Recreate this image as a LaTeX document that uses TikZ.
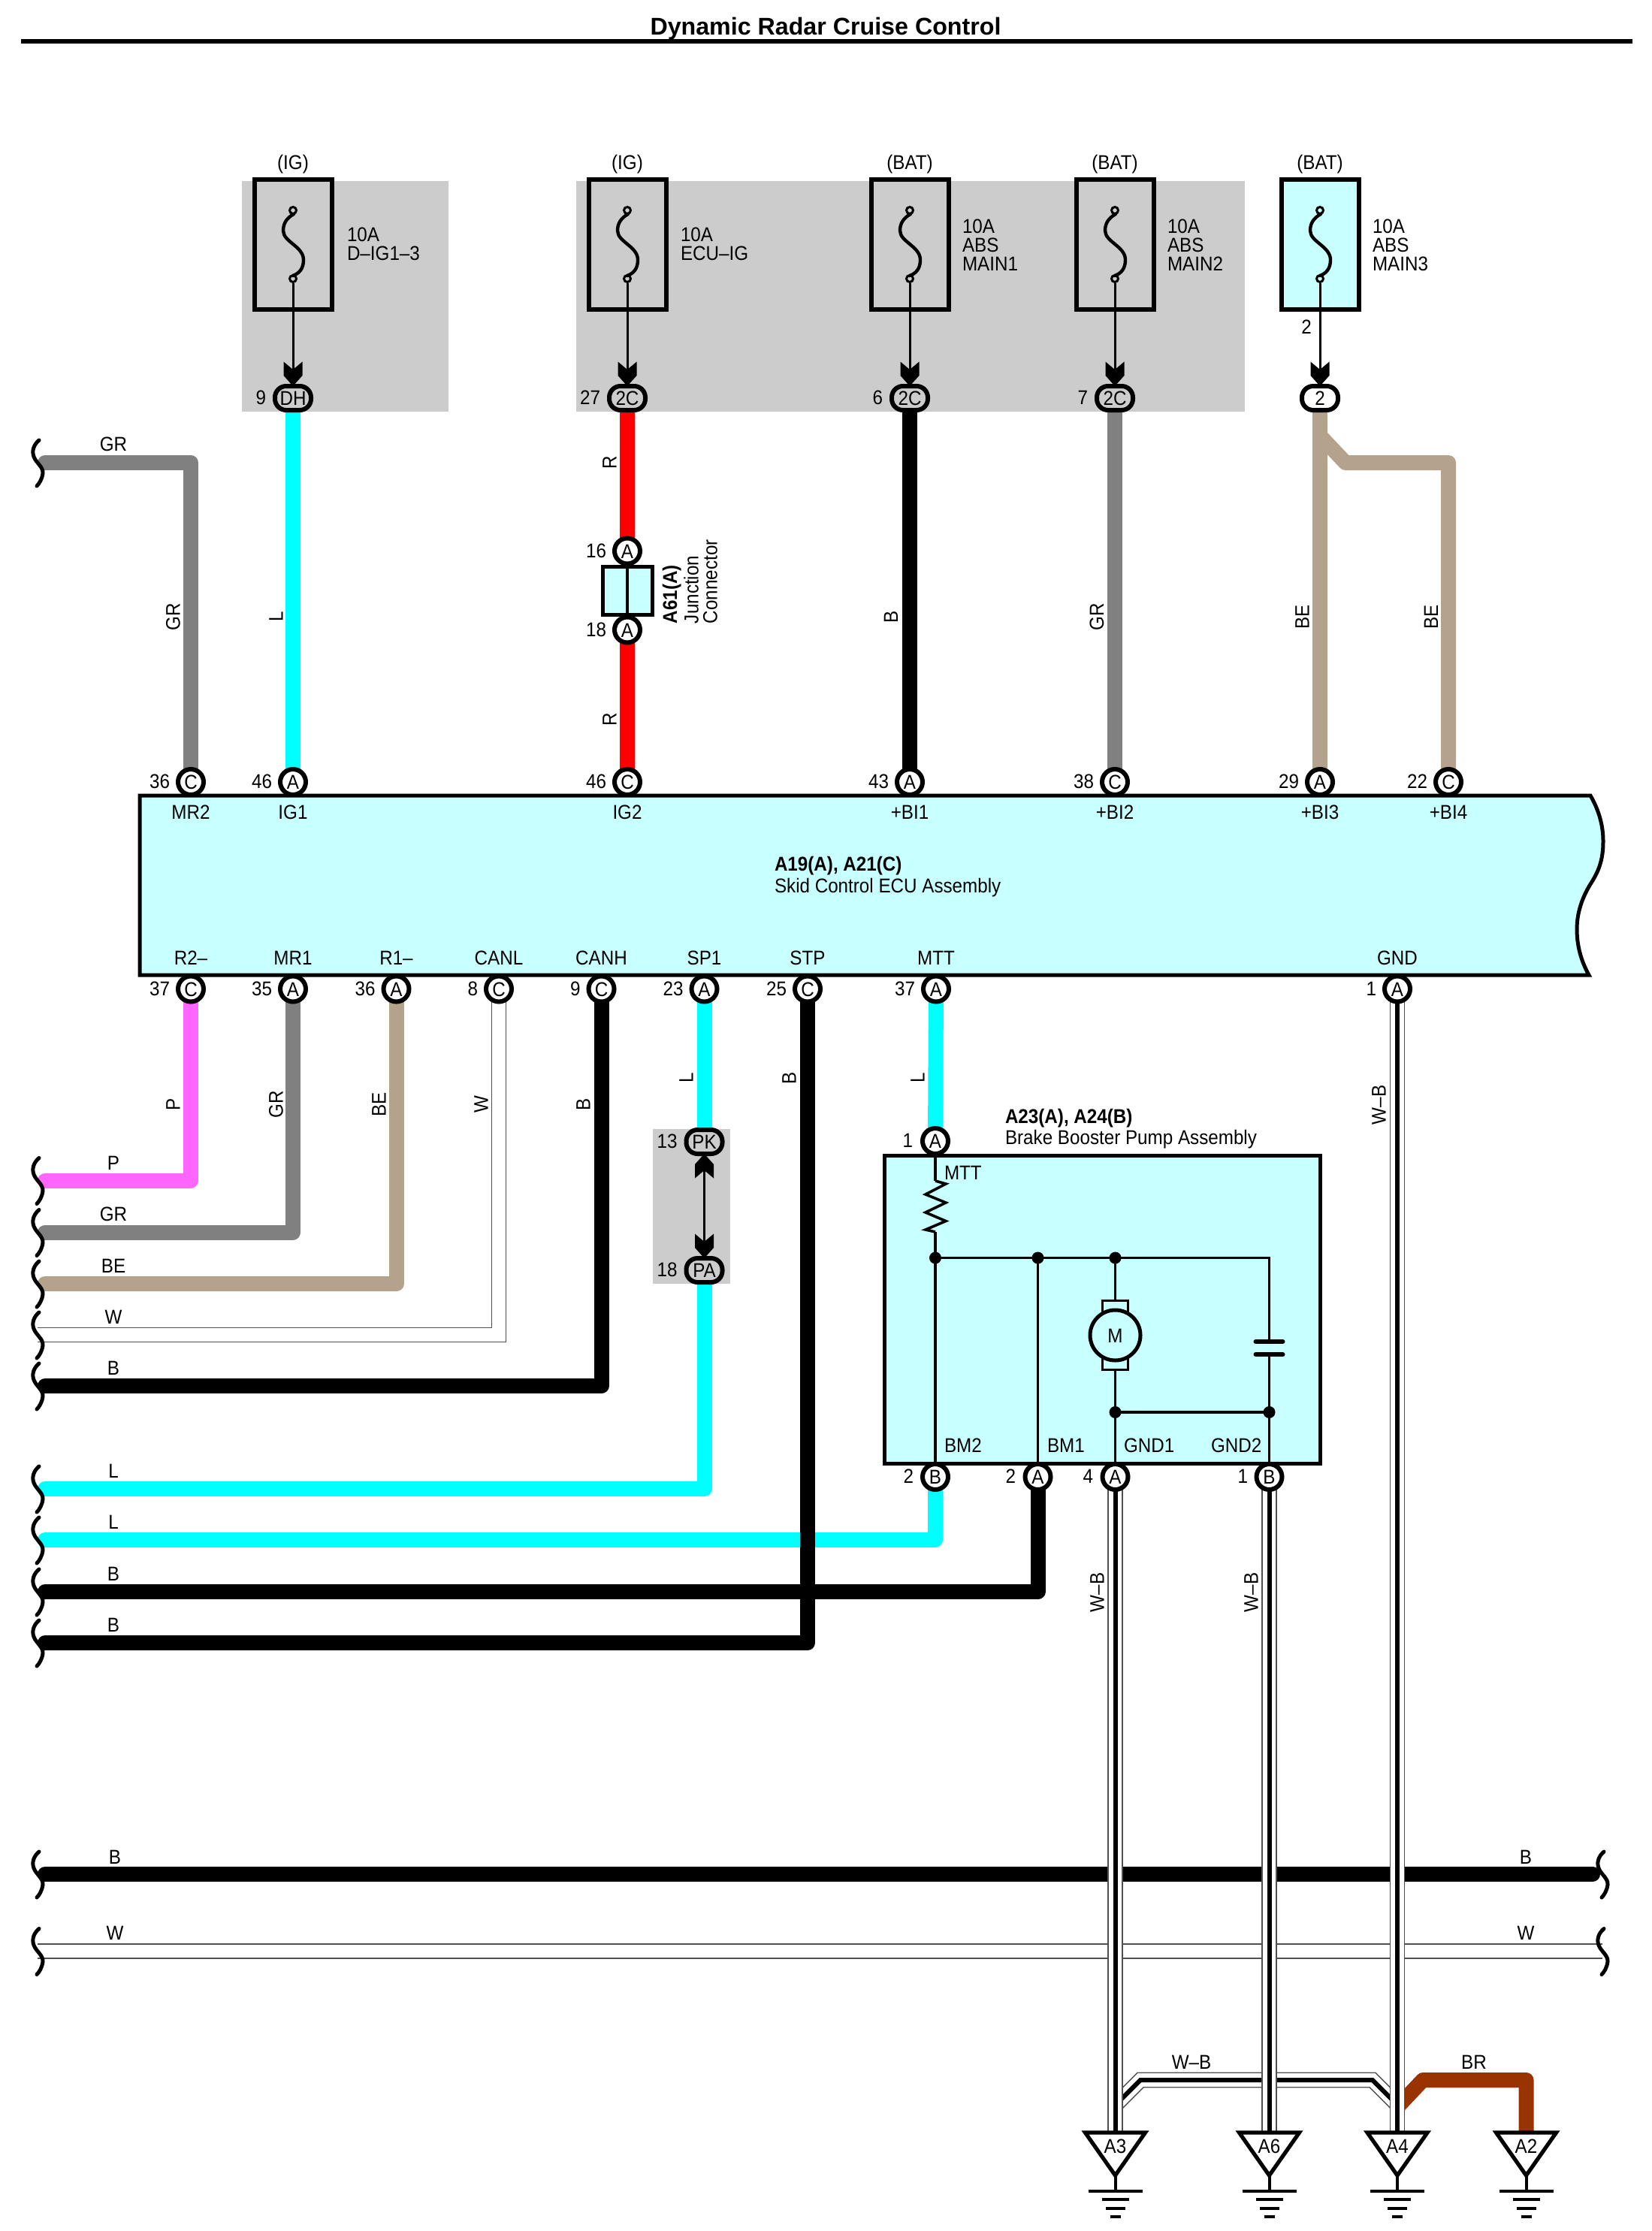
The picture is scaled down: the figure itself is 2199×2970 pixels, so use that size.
\documentclass[tikz,border=0pt]{standalone}
\usepackage{fontspec}
\setmainfont[FakeStretch=0.91]{Liberation Sans}
\newfontfamily\titlefont{Liberation Sans}
\usetikzlibrary{calc}
\pgfdeclarelayer{back}\pgfdeclarelayer{wires}
\pgfsetlayers{back,wires,main}
\definecolor{panel}{HTML}{CCCCCC}
\definecolor{ice}{HTML}{C8FFFF}
\definecolor{wcy}{HTML}{00FFFF}
\definecolor{wgr}{HTML}{808080}
\definecolor{wbe}{HTML}{B5A28C}
\definecolor{wpk}{HTML}{FF66FF}
\definecolor{wbr}{HTML}{993300}
\definecolor{wwe}{HTML}{505050}
\newcounter{lblc}
\tikzset{
  x=0.5pt,y=-0.5pt,
  txt/.style={inner sep=0pt,outer sep=0pt,font=\fontsize{13.3}{15}\selectfont,text height=9.6pt,text depth=0pt},
  pinnode/.style={circle,draw,line width=3pt,fill=white,minimum size=17pt,inner sep=0pt,txt},
  pill/.style={rectangle,draw,line width=3pt,rounded corners=7.5pt,minimum width=24pt,minimum height=16pt,inner sep=0pt,txt},
  wire/.style={line width=10pt,line join=round,line cap=round},
  wwire/.style={line width=0.8pt,double=white,double distance=8.8pt,draw=wwe,line join=miter},
  wbcore/.style={line width=3pt,draw=black,line join=miter},
  sq/.style={line width=2.5pt,line cap=round},
  fusebox/.style={rectangle,draw,line width=3pt,minimum width=51.5pt,minimum height=86pt,inner sep=0pt},
  fusedot/.style={circle,draw,line width=1.5pt,minimum size=4.5pt,inner sep=0pt},
  fuses/.style={line width=2.2pt,line cap=round},
  aline/.style={line width=1.5pt},
  inner/.style={line width=1.8pt},
  dot/.style={circle,fill=black,minimum size=8pt,inner sep=0pt},
  grnd/.style={line width=2pt},
  trinode/.style={rectangle,inner sep=0pt,txt},
}
\newcommand\lbl[4][]{\stepcounter{lblc}\node[txt,#1] (t\thelblc) at (#2,#3) {#4};}
\newcommand\lblL[3]{\lbl[anchor=west]{#1}{#2}{#3}}
\newcommand\lblV[3]{\lbl[rotate=90]{#1}{#2}{#3}}
\newcommand\pin[5]{\node[pinnode] (#1) at (#2,#3) {#4};\lbl[anchor=east]{#2-28}{#3-1}{#5}}
\newcommand\pil[6][panel]{\node[pill,fill=#1] (#2) at (#3,#4) {#5};\lbl[anchor=east]{#3-36}{#4-1}{#6}}
\newcommand\chev[2][]{\fill[shift={(#2)},#1] (-12.5,-48.5) -- (0,-38) -- (12.5,-48.5) -- (12.5,-30) -- (0,-16) -- (-12.5,-30) -- cycle;}
\newcommand\fuse[3]{%
  \node[fusebox,fill=#3] (#1) at (#2,325.5) {};
  \node[fusedot,fill=#3] (#1t) at (#2,280) {};
  \node[fusedot,fill=#3] (#1b) at (#2,371) {};
  \draw[fuses] (#2+1,285) .. controls (#2-8,290) and (#2-13,297) .. (#2-13,307) .. controls (#2-13,322) and (#2+14,328) .. (#2+14,346) .. controls (#2+14,358) and (#2+8,364) .. (#2,367);
}
\newcommand\squig[2]{\draw[sq,shift={(#1,#2)}] (52,-30) .. controls (45,-24) and (42,-16) .. (45,-8) .. controls (48,0) and (58,6) .. (57,14) .. controls (56,22) and (52,28) .. (49,31);}
\newcommand\wbw[1]{\draw[wwire] #1; \draw[wbcore] #1;}
\newcommand\gnd[3]{%
  \draw[line width=2.6pt,fill=white,line join=miter] (#2-40,2839) -- (#2+40,2839) -- (#2,2896) -- cycle;
  \node[trinode] (#1) at (#2,2857) {#3};
  \draw[grnd] (#2,2896) -- (#2,2917);
  \draw[grnd] (#2-36,2917) -- (#2+36,2917);
  \draw[grnd] (#2-18,2928) -- (#2+18,2928);
  \draw[grnd] (#2-13,2940) -- (#2+13,2940);
  \draw[grnd] (#2-7,2951) -- (#2+7,2951);
}
\begin{document}
\begin{tikzpicture}
\useasboundingbox (0,0) rectangle (2199,2970);

% ---------- panels and bodies
\begin{pgfonlayer}{back}
  \fill[panel] (322,241) rectangle (597,548);
  \fill[panel] (767,241) rectangle (1657,548);
  \fill[panel] (869,1503) rectangle (972,1709);
  \draw[line width=2.5pt,fill=ice,line join=miter] (186,1059) -- (2117,1059)
     .. controls (2129,1080) and (2134,1100) .. (2134,1120)
     .. controls (2134,1145) and (2128,1160) .. (2117,1177)
     .. controls (2106,1195) and (2099,1215) .. (2099,1237)
     .. controls (2099,1260) and (2105,1280) .. (2115,1298)
     -- (186,1298) -- cycle;
  \node[rectangle,draw,line width=2.5pt,fill=ice,minimum width=290pt,minimum height=205pt,inner sep=0pt] (booster) at (1467.5,1743) {};
  \node[rectangle,draw,line width=2.5pt,fill=ice,minimum width=33pt,minimum height=32pt,inner sep=0pt] (jbox) at (835.5,786.5) {};
\end{pgfonlayer}

% ---------- title
\node[inner sep=0pt,font=\titlefont\bfseries\fontsize{16.1}{18}\selectfont,text height=11.5pt,text depth=0pt] (title) at (1099,35) {Dynamic Radar Cruise Control};
\coordinate (ruleL) at (28,55); \coordinate (ruleR) at (2173,55);
\draw[line width=3pt] (ruleL) -- (ruleR);

% ---------- fuses
\fuse{fa}{390}{panel}\fuse{fb}{835}{panel}\fuse{fc}{1211}{panel}\fuse{fd}{1484}{panel}\fuse{fe}{1757}{ice}
\lbl{390}{215.5}{(IG)}\lbl{835}{215.5}{(IG)}\lbl{1211}{215.5}{(BAT)}\lbl{1484}{215.5}{(BAT)}\lbl{1757}{215.5}{(BAT)}
\lblL{462}{312}{10A}\lblL{462}{337}{D–IG1–3}
\lblL{906}{312}{10A}\lblL{906}{337}{ECU–IG}
\lblL{1281}{300.5}{10A}\lblL{1281}{326}{ABS}\lblL{1281}{351}{MAIN1}
\lblL{1554}{300.5}{10A}\lblL{1554}{326}{ABS}\lblL{1554}{351}{MAIN2}
\lblL{1827}{300.5}{10A}\lblL{1827}{326}{ABS}\lblL{1827}{351}{MAIN3}
\lbl{1739}{435}{2}

% ---------- connector pills
\pil{ca}{390}{530}{DH}{9}\pil{cb}{835}{530}{2C}{27}\pil{cc}{1211}{530}{2C}{6}\pil{cd}{1484}{530}{2C}{7}
\node[pill,fill=white] (ce) at (1757,530) {2};
\pil{cpk}{937.5}{1520}{PK}{13}\pil{cpa}{937.5}{1691}{PA}{18}

\foreach \f/\c in {fa/ca,fb/cb,fc/cc,fd/cd,fe/ce}{
  \draw[aline] (\f b) -- (\c);
  \chev{\c.center}
}
\draw[aline] (cpk) -- (cpa);
\chev{cpa.center}
\chev[yscale=-1]{cpk.center}

% ---------- ECU
\lbl[anchor=west]{1031}{1150}{\bfseries A19(A), A21(C)}
\lblL{1031}{1179}{Skid Control ECU Assembly}
\pin{tMR}{254}{1041}{C}{36}\pin{tIGa}{390}{1041}{A}{46}\pin{tIGb}{835}{1041}{C}{46}
\pin{tBa}{1211}{1041}{A}{43}\pin{tBb}{1484}{1041}{C}{38}\pin{tBc}{1757}{1041}{A}{29}\pin{tBd}{1928}{1041}{C}{22}
\lbl{254}{1081}{MR2}\lbl{390}{1081}{IG1}\lbl{835}{1081}{IG2}\lbl{1211}{1081}{+BI1}\lbl{1484}{1081}{+BI2}\lbl{1757}{1081}{+BI3}\lbl{1928}{1081}{+BI4}
\pin{bRa}{254}{1316.5}{C}{37}\pin{bMR}{390}{1316.5}{A}{35}\pin{bRb}{527.5}{1316.5}{A}{36}\pin{bCL}{664}{1316.5}{C}{8}
\pin{bCH}{800.5}{1316.5}{C}{9}\pin{bSP}{937.5}{1316.5}{A}{23}\pin{bST}{1075}{1316.5}{C}{25}\pin{bMT}{1246}{1316.5}{A}{37}\pin{bGN}{1860}{1316.5}{A}{1}
\lbl{254}{1275}{R2–}\lbl{390}{1275}{MR1}\lbl{527.5}{1275}{R1–}\lbl{664}{1275}{CANL}\lbl{800.5}{1275}{CANH}\lbl{937.5}{1275}{SP1}\lbl{1075}{1275}{STP}\lbl{1246}{1275}{MTT}\lbl{1860}{1275}{GND}

% ---------- junction connector
\pin{ja}{835}{733.5}{A}{16}\pin{jb}{835}{838.5}{A}{18}
\lbl[rotate=90,anchor=west]{891.5}{830}{\bfseries A61(A)}
\lbl[rotate=90,anchor=west]{920}{830}{Junction}
\lbl[rotate=90,anchor=west]{945}{830}{Connector}

% ---------- booster pump
\lbl[anchor=west]{1338}{1486}{\bfseries A23(A), A24(B)}
\lblL{1338}{1514}{Brake Booster Pump Assembly}
\node[pinnode] (mA) at (1245,1519) {A};\lbl[anchor=east]{1215}{1518}{1}
\node[pinnode] (mB) at (1245,1966) {B};\lbl[anchor=east]{1216}{1965}{2}
\node[pinnode] (mC) at (1381.5,1966) {A};\lbl[anchor=east]{1352}{1965}{2}
\node[pinnode] (mD) at (1484.5,1966) {A};\lbl[anchor=east]{1455}{1965}{4}
\node[pinnode] (mE) at (1689.5,1966) {B};\lbl[anchor=east]{1661}{1965}{1}
\lblL{1257}{1561}{MTT}\lblL{1257}{1924}{BM2}\lblL{1394}{1924}{BM1}\lblL{1496}{1924}{GND1}\lblL{1612}{1924}{GND2}
\node[dot] (d1) at (1245,1674.5) {};
\node[dot] (d2) at (1381.5,1674.5) {};
\node[dot] (d3) at (1484.5,1674.5) {};
\node[dot] (d4) at (1484.5,1880) {};
\node[dot] (d5) at (1689.5,1880) {};
\coordinate (rt) at (1245,1572);\coordinate (rb) at (1245,1640);
\coordinate (dc) at (1689.5,1674.5);\coordinate (pa) at (1689.5,1786);\coordinate (pb) at (1689.5,1803);
\node[rectangle,draw,line width=1.8pt,fill=ice,minimum width=17pt,minimum height=9.5pt,inner sep=0pt] (bra) at (1484.5,1741) {};
\node[rectangle,draw,line width=1.8pt,fill=ice,minimum width=17pt,minimum height=9.5pt,inner sep=0pt] (brb) at (1484.5,1814) {};
\node[circle,draw,line width=2.5pt,fill=ice,minimum size=33.5pt,inner sep=0pt,txt] (motor) at (1484.5,1777.5) {M};
\begin{pgfonlayer}{wires}
  \draw[inner] (mA.center) -- (rt);
  \draw[inner,line join=miter] (rt) -- ++(14,4) -- ++(-27,14) -- ++(27,11) -- ++(-27,13) -- ++(27,11.5) -- ++(-27,11.5) -- (rb);
  \draw[inner] (rb) -- (d1.center) -- (mB.center);
  \draw[inner] (d1.center) -- (dc) -- (pa);
  \draw[inner] (d2.center) -- (mC.center);
  \draw[inner] (d3.center) -- (bra.center);
  \draw[inner] (brb.center) -- (mD.center);
  \draw[inner] (d4.center) -- (d5.center);
  \draw[inner] (pb) -- (mE.center);
\end{pgfonlayer}
\draw[line width=3pt,line cap=round] ($(pa)+(-18,0)$) -- ($(pa)+(18,0)$);
\draw[line width=3pt,line cap=round] ($(pb)+(-18,0)$) -- ($(pb)+(18,0)$);

% ---------- free ends at the left and right edge
\coordinate (eGR) at (60,616);
\coordinate (eP) at (60,1571.5);\coordinate (eGRb) at (60,1640.5);\coordinate (eBE) at (60,1709);
\coordinate (eW) at (50,1777);\coordinate (eB) at (60,1845);
\coordinate (eLa) at (60,1982);\coordinate (eLb) at (60,2050);\coordinate (eBb) at (60,2119);\coordinate (eBc) at (60,2187);
\coordinate (busBL) at (60,2495);\coordinate (busBR) at (2120,2495);
\coordinate (busWL) at (50,2597.5);\coordinate (busWR) at (2133,2597.5);
\coordinate (beSp) at (1757,580);\coordinate (beK) at (1791,616);
\coordinate (xL) at (1484,2803);\coordinate (xLa) at (1518,2769);\coordinate (xRa) at (1827,2769);\coordinate (xR) at (1860,2802);
\coordinate (brS) at (1860,2805);\coordinate (brK) at (1894,2769);
\coordinate (gA) at (1484.5,2839);\coordinate (gB) at (1689.5,2839);\coordinate (gC) at (1860,2839);\coordinate (gD) at (2031.5,2839);

% ---------- wires
\begin{pgfonlayer}{wires}
  \draw[wire,wgr] (tMR.center) |- (eGR);
  \draw[wire,wcy] (ca.center) -- (tIGa.center);
  \draw[wire,red] (cb.center) -- (ja.center);
  \draw[wire,red] (jb.center) -- (tIGb.center);
  \draw[inner] (ja.center) -- (jb.center);
  \draw[wire,black] (cc.center) -- (tBa.center);
  \draw[wire,wgr] (cd.center) -- (tBb.center);
  \draw[wire,wbe] (ce.center) -- (tBc.center);
  \draw[wire,wbe] (beSp) -- (beK) -| (tBd.center);
  \draw[wire,wpk] (bRa.center) |- (eP);
  \draw[wire,wgr] (bMR.center) |- (eGRb);
  \draw[wire,wbe] (bRb.center) |- (eBE);
  \draw[wwire] (bCL.center) |- (eW);
  \draw[wire,black] (bCH.center) |- (eB);
  \draw[wire,wcy] (bSP.center) -- (cpk.center);
  \draw[wire,wcy] (cpa.center) |- (eLa);
  \draw[wire,wcy] (bMT.center) -- (mA.center);
  \draw[wire,wcy] (mB.center) |- (eLb);
  \draw[wire,black] (mC.center) |- (eBb);
  \draw[wire,black] (bST.center) |- (eBc);
  \draw[wire,black] (busBL) -- (busBR);
  \draw[wwire] (busWL) -- (busWR);
  \wbw{(xL) -- (xLa) -- (xRa) -- (xR)}
  \draw[wire,wbr,line cap=butt] (brS) -- (brK) -| (gD);
  \wbw{(mD.center) -- (gA)}
  \wbw{(mE.center) -- (gB)}
  \wbw{(bGN.center) -- (gC)}
\end{pgfonlayer}

% ---------- squiggles
\foreach \y in {616,1571.5,1640.5,1709,1777,1845,1982,2050,2119,2187,2495,2597.5}{\squig{0}{\y}}
\squig{2083}{2495}\squig{2083}{2597.5}

% ---------- grounds
\gnd{ga}{1484.5}{A3}\gnd{gb}{1689.5}{A6}\gnd{gc}{1860}{A4}\gnd{gd}{2031.5}{A2}

% ---------- wire colour labels
\lbl{151}{591}{GR}
\lbl{151}{1548}{P}\lbl{151}{1616}{GR}\lbl{151}{1685}{BE}\lbl{151}{1753}{W}\lbl{151}{1821}{B}
\lbl{151}{1958}{L}\lbl{151}{2026}{L}\lbl{151}{2095}{B}\lbl{151}{2163}{B}
\lbl{153}{2472}{B}\lbl{153}{2573}{W}\lbl{2031}{2472}{B}\lbl{2031}{2573}{W}
\lbl{1586}{2745}{W–B}\lbl{1962}{2745}{BR}
\lblV{230}{821}{GR}\lblV{367}{821}{L}\lblV{811}{615.5}{R}\lblV{811}{958}{R}
\lblV{1185.5}{821}{B}\lblV{1459.5}{821}{GR}\lblV{1733}{821}{BE}\lblV{1904.5}{821}{BE}
\lblV{230}{1470}{P}\lblV{367}{1470}{GR}\lblV{504}{1470}{BE}\lblV{640}{1470}{W}\lblV{776}{1470}{B}
\lblV{913}{1435}{L}\lblV{1050}{1435}{B}\lblV{1221}{1435}{L}
\lblV{1835}{1471}{W–B}\lblV{1460}{2120}{W–B}\lblV{1665}{2120}{W–B}
\end{tikzpicture}
\end{document}
